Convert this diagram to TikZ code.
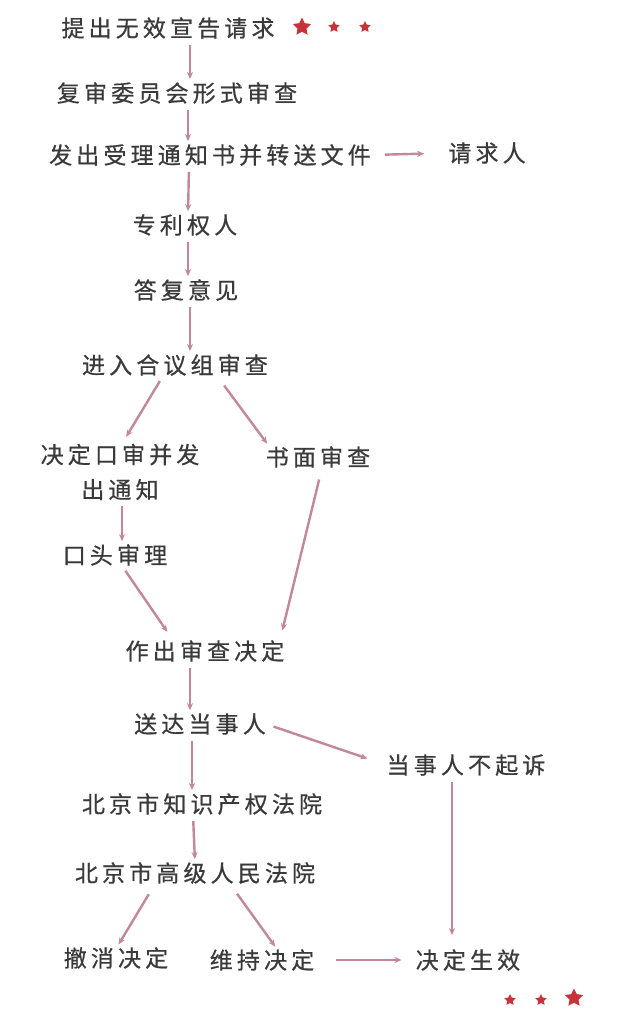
\documentclass[tikz,border=0pt]{standalone}
\usepackage{fontspec}
\newfontfamily\cjk[LetterSpace=18,FakeBold=0.6]{Noto Sans CJK SC}
\usetikzlibrary{arrows.meta,shapes.geometric}
\definecolor{linkpink}{RGB}{194,136,154}
\definecolor{starred}{RGB}{198,52,58}
\definecolor{textgray}{RGB}{58,58,58}

\begin{document}
\begin{tikzpicture}[x=1pt,y=-1pt,
  stage/.style={inner sep=0pt,font=\cjk\fontsize{23}{35}\selectfont,text=textgray,align=center},
  link/.style={draw=linkpink,line width=2.4pt,shorten <=6pt,shorten >=3pt,-{Stealth[length=7pt,width=6pt]}},
  bigstar/.style={star,star points=5,star point ratio=2,fill=starred,inner sep=0pt,minimum size=19pt},
  smallstar/.style={star,star points=5,star point ratio=2,fill=starred,inner sep=0pt,minimum size=12pt}]
\useasboundingbox[fill=white] (0,0) rectangle (640,1013);

% first stage: request and formal check
\node[stage] (tq) at (168,28) {提出无效宣告请求};
\node[bigstar] (s1) at (302,27) {};
\node[smallstar] (s2) at (334,27) {};
\node[smallstar] (s3) at (365,27) {};
\node[stage] (fs) at (177,93) {复审委员会形式审查};
\node[stage] (fc) at (210,155) {发出受理通知书并转送文件};
\node[stage] (qqr) at (487,153) {请求人};
\node[stage] (zl) at (185,225) {专利权人};
\node[stage] (df) at (186,290) {答复意见};

\draw[link] ([xshift=22pt]tq.south) -- ([xshift=13pt]fs.north);
\draw[link] ([xshift=11pt]fs.south) -- ([xshift=-22pt]fc.north);
\draw[link] ([xshift=-21pt]fc.south) -- ([xshift=3pt]zl.north);
\draw[link,shorten <=14pt,shorten >=24pt] (fc.east) -- (qqr.west);
\draw[link] ([xshift=3pt]zl.south) -- ([xshift=2pt]df.north);

% collegiate panel
\node[stage] (hy) at (175,365) {进入合议组审查};
\node[stage] (ks) at (120,472) {决定口审并发\\出通知};
\node[stage] (sm) at (318,457) {书面审查};
\node[stage] (kt) at (115,555) {口头审理};
\node[stage] (zc) at (205,651) {作出审查决定};

\draw[link] ([xshift=4pt]df.south) -- ([xshift=15pt]hy.north);
\draw[link,shorten >=8pt] ([xshift=-12pt]hy.south) -- ([xshift=2pt]ks.north);
\draw[link,shorten <=12pt] ([xshift=42pt]hy.south) -- ([xshift=-49pt]sm.north);
\draw[link] ([xshift=2pt]ks.south) -- ([xshift=7pt]kt.north);
\draw[link,shorten >=10pt] ([xshift=7pt]kt.south) -- ([xshift=-32pt]zc.north);
\draw[link,shorten <=12pt,shorten >=10pt] ([xshift=4pt]sm.south) -- ([xshift=75pt]zc.north);

% courts
\node[stage] (sd) at (200,724) {送达当事人};
\node[stage] (bqs) at (466,765) {当事人不起诉};
\node[stage] (zcf) at (202,804) {北京市知识产权法院};
\node[stage] (gy) at (195,873) {北京市高级人民法院};
\node[stage] (cx) at (116,958) {撤消决定};
\node[stage] (wc) at (262,960) {维持决定};
\node[stage] (sx) at (468,960) {决定生效};
\node[smallstar] (s4) at (510,1000) {};
\node[smallstar] (s5) at (541,1000) {};
\node[bigstar] (s6) at (574,998) {};

\draw[link] ([xshift=-15pt]zc.south) -- ([xshift=-10pt]sd.north);
\draw[link,shorten <=8pt,shorten >=20pt] (sd.east) -- (bqs.west);
\draw[link] ([xshift=-8pt]sd.south) -- ([xshift=-10pt]zcf.north);
\draw[link] ([xshift=-9pt]zcf.south) -- (gy.north);
\draw[link,shorten <=12pt] ([xshift=-40pt]gy.south) -- ([xshift=1pt]cx.north);
\draw[link,shorten <=12pt] ([xshift=35pt]gy.south) -- ([xshift=15pt]wc.north);
\draw[link,shorten >=14pt] ([xshift=-14pt]bqs.south) -- ([xshift=-16pt]sx.north);
\draw[link,shorten <=22pt,shorten >=14pt] (wc.east) -- (sx.west);
\end{tikzpicture}
\end{document}
